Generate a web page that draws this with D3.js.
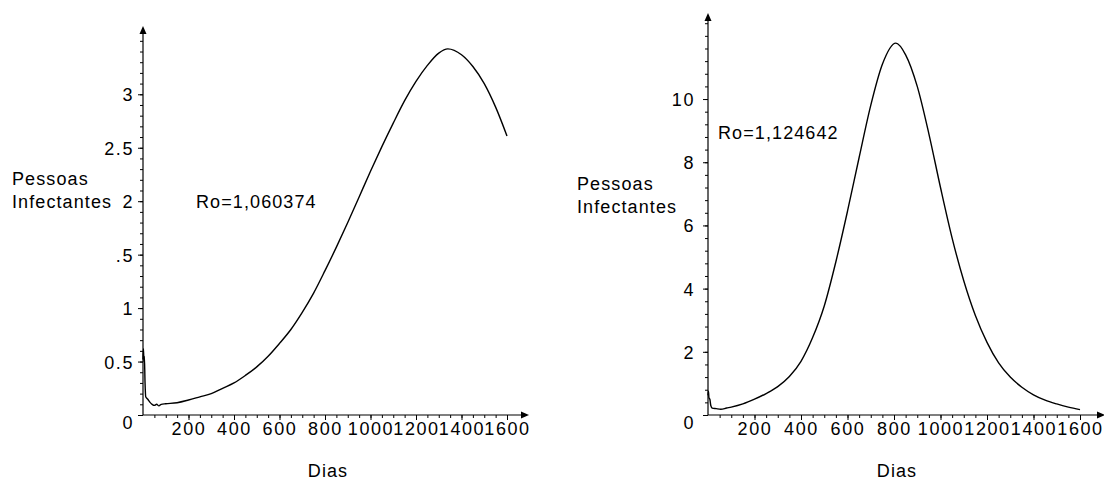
<!DOCTYPE html>
<html lang="pt">
<head>
<meta charset="utf-8">
<title>Pessoas Infectantes</title>
<script src="https://d3js.org/d3.v7.min.js"></script>
<style>
  body { margin: 0; background: #fff; }
  svg text { font-family: "Liberation Sans", Arial, sans-serif; font-size: 18px; fill: #000; letter-spacing: 1.1px; }
  svg .tick text { letter-spacing: 1.6px; }
</style>
</head>
<body>
<svg id="chart" width="1104" height="481"></svg>
<script>
// ---- data ----
var days1 = [0, 2, 4, 6, 9, 12, 20, 30, 40, 50, 60, 70, 80, 100, 150, 200, 250, 300, 350, 400, 450, 500, 550, 600,
  650, 700, 750, 800, 850, 900, 950, 1000, 1050, 1100, 1150, 1200, 1250, 1300, 1340, 1400, 1450, 1500, 1550, 1600];
var infect1 = [0.52, 0.62, 0.5, 0.55, 0.3, 0.17, 0.15, 0.12, 0.1, 0.09, 0.1, 0.085, 0.1, 0.105, 0.115, 0.14, 0.17, 0.2, 0.25, 0.3, 0.37, 0.45, 0.55, 0.67,
  0.8, 0.96, 1.14, 1.35, 1.57, 1.8, 2.04, 2.28, 2.51, 2.73, 2.94, 3.12, 3.27, 3.385, 3.425, 3.37, 3.26, 3.1, 2.88, 2.61];

var days2 = [0, 2, 4, 8, 12, 18, 35, 55, 80, 100, 150, 200, 250, 300, 350, 400, 450, 500, 550, 600, 650, 700, 750, 808,
  850, 900, 950, 1000, 1050, 1100, 1150, 1200, 1250, 1300, 1350, 1400, 1450, 1500, 1550, 1600];
var infect2 = [0.62, 0.75, 0.55, 0.5, 0.3, 0.22, 0.2, 0.18, 0.22, 0.25, 0.35, 0.5, 0.68, 0.9, 1.22, 1.7, 2.45, 3.45, 4.85, 6.45, 8.15, 9.8, 11.1, 11.77,
  11.4, 10.4, 8.9, 7.2, 5.6, 4.25, 3.15, 2.3, 1.65, 1.2, 0.88, 0.64, 0.47, 0.35, 0.25, 0.17];

var xTicks = [200, 400, 600, 800, 1000, 1200, 1400, 1600];
var xLabels = ["200", "400", "600", "800", "1000", "1200", "1400", "1600"];
var yTicks1 = [0, 0.5, 1, 1.5, 2, 2.5, 3];
var yLabels1 = ["0", "0.5", "1", ".5", "2", "2.5", "3"];
var yTicks2 = [0, 2, 4, 6, 8, 10];
var yLabels2 = ["0", "2", "4", "6", "8", "10"];

var svg = d3.select("#chart");

/** draws one Maple-like plot */
function drawPanel(p) {
  var x = d3.scaleLinear().domain([0, 1600]).range([p.x0, p.x1]);
  var y = d3.scaleLinear().domain([0, p.yMax]).range([p.y0, p.yTop]);
  var g = svg.append("g");

  // minor ticks
  g.append("g").attr("transform", "translate(0," + p.y0 + ")")
    .call(d3.axisBottom(x).tickValues(d3.range(50, 1601, 50)).tickSize(3).tickFormat(""));
  g.append("g").attr("transform", "translate(" + p.x0 + ",0)")
    .call(d3.axisLeft(y).tickValues(d3.range(p.minor, p.minorMax + 1e-9, p.minor)).tickSize(3).tickFormat(""));

  // major ticks + labels
  var xa = g.append("g").attr("transform", "translate(0," + p.y0 + ")")
    .call(d3.axisBottom(x).tickValues(xTicks).tickSize(5).tickFormat(function(d, i) { return xLabels[i]; }));
  xa.selectAll("text").attr("y", 20).attr("dy", 0);

  var ya = g.append("g").attr("transform", "translate(" + p.x0 + ",0)")
    .call(d3.axisLeft(y).tickValues(p.yTicks).tickSize(5).tickFormat(function(d, i) { return p.yLabels[i]; }));
  ya.selectAll("text").attr("x", -p.labelGap).attr("dy", "0.36em")
    .filter(function(d) { return d === 0; }).attr("dy", "0.75em");

  g.selectAll(".domain").remove();
  g.selectAll(".tick line").attr("stroke", "#000");
  g.selectAll(".tick text").attr("font-size", null).attr("font-family", null);

  // axes with arrow heads
  g.append("line").attr("x1", p.x0).attr("x2", p.xEnd).attr("y1", p.y0).attr("y2", p.y0)
    .attr("stroke", "#000").attr("stroke-width", 1.2);
  g.append("line").attr("x1", p.x0).attr("x2", p.x0).attr("y1", p.y0).attr("y2", p.yTop)
    .attr("stroke", "#000").attr("stroke-width", 1.2);
  g.append("path").attr("d", "M" + (p.xEnd + 2) + "," + p.y0 + "l-8,-3.5l0,7z");
  g.append("path").attr("d", "M" + p.x0 + "," + (p.yTop - 2) + "l-3.5,8l7,0z");

  // curve
  var line = d3.line()
    .x(function(d) { return x(d[0]); })
    .y(function(d) { return y(d[1]); })
    .curve(d3.curveMonotoneX);
  g.append("path").datum(d3.zip(p.days, p.vals))
    .attr("d", line).attr("fill", "none").attr("stroke", "#000").attr("stroke-width", 1.4);

  // texts
  g.append("text").attr("x", p.labX).attr("y", p.labY).text("Pessoas");
  g.append("text").attr("x", p.labX).attr("y", p.labY + 23).text("Infectantes");
  g.append("text").attr("x", p.roX).attr("y", p.roY).text(p.ro);
  g.append("text").attr("x", p.diasX).attr("y", 477).attr("text-anchor", "middle").text("Dias");
}

drawPanel({
  x0: 143, x1: 507, xEnd: 527, y0: 415, yTop: 28, yMax: 3.62,
  minor: 0.1, minorMax: 3.5, yTicks: yTicks1, yLabels: yLabels1, labelGap: 9,
  days: days1, vals: infect1,
  labX: 12, labY: 185, roX: 196, roY: 208, ro: "Ro=1,060374", diasX: 328
});

drawPanel({
  x0: 708, x1: 1080, xEnd: 1103, y0: 415, yTop: 15, yMax: 12.66,
  minor: 0.4, minorMax: 12.4, yTicks: yTicks2, yLabels: yLabels2, labelGap: 13,
  days: days2, vals: infect2,
  labX: 577, labY: 190, roX: 718, roY: 139, ro: "Ro=1,124642", diasX: 897
});
</script>
</body>
</html>
